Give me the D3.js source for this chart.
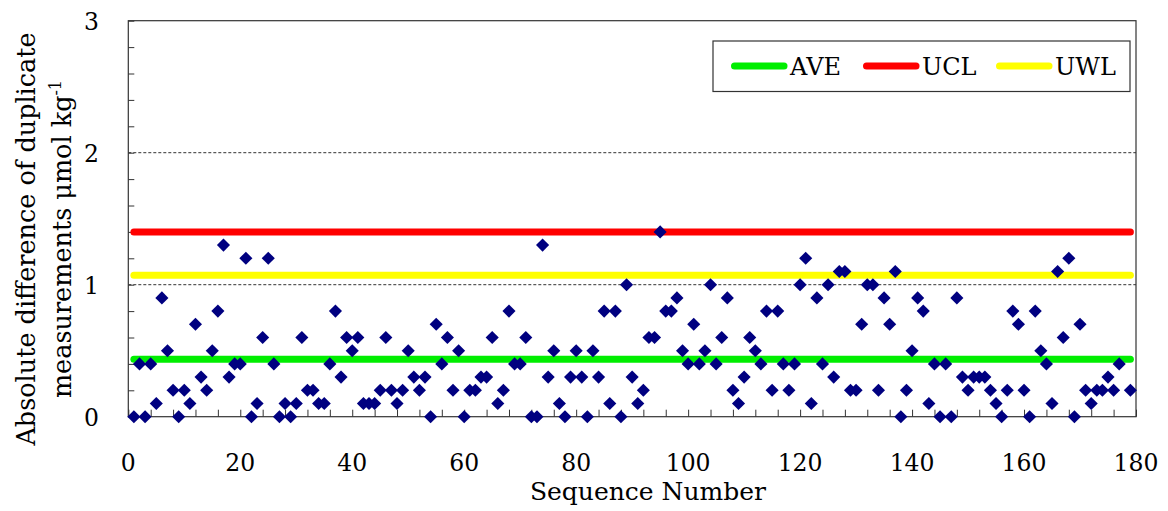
<!DOCTYPE html>
<html><head><meta charset="utf-8">
<script src="https://cdn.jsdelivr.net/npm/d3@7"></script>
<style>
body{margin:0;background:#fff;}
</style></head>
<body><svg id="chart" width="1168" height="511"></svg>
<script>
const sequence = d3.range(1, 180);
const diffs = [
0,0.4,0,0.4,0.1,0.9,0.5,0.2,0,0.2,
0.1,0.7,0.3,0.2,0.5,0.8,1.3,0.3,0.4,0.4,
1.2,0,0.1,0.6,1.2,0.4,0,0.1,0,0.1,
0.6,0.2,0.2,0.1,0.1,0.4,0.8,0.3,0.6,0.5,
0.6,0.1,0.1,0.1,0.2,0.6,0.2,0.1,0.2,0.5,
0.3,0.2,0.3,0,0.7,0.4,0.6,0.2,0.5,0,
0.2,0.2,0.3,0.3,0.6,0.1,0.2,0.8,0.4,0.4,
0.6,0,0,1.3,0.3,0.5,0.1,0,0.3,0.5,
0.3,0,0.5,0.3,0.8,0.1,0.8,0,1.0,0.3,
0.1,0.2,0.6,0.6,1.4,0.8,0.8,0.9,0.5,0.4,
0.7,0.4,0.5,1.0,0.4,0.6,0.9,0.2,0.1,0.3,
0.6,0.5,0.4,0.8,0.2,0.8,0.4,0.2,0.4,1.0,
1.2,0.1,0.9,0.4,1.0,0.3,1.1,1.1,0.2,0.2,
0.7,1.0,1.0,0.2,0.9,0.7,1.1,0,0.2,0.5,
0.9,0.8,0.1,0.4,0,0.4,0,0.9,0.3,0.2,
0.3,0.3,0.3,0.2,0.1,0,0.2,0.8,0.7,0.2,
0,0.8,0.5,0.4,0.1,1.1,0.6,1.2,0,0.7,
0.2,0.1,0.2,0.2,0.3,0.2,0.4,null,0.2
];
const limitNames = ["AVE","UCL","UWL"];
const limitValues = [0.436, 1.40, 1.072];
const limitColors = ["#00ee00","#ff0000","#ffff00"];
const xTickLabels = [0,20,40,60,80,100,120,140,160,180];
const yTickLabels = [0,1,2,3];
const gridValues = [1,2];

const FONT = "'DejaVu Serif', 'Liberation Serif', serif";
const svg = d3.select("#chart");
const L=128.3, T=20.7, R=1136, B=416.7;
const x = d3.scaleLinear().domain([0,180]).range([L,R]);
const y = d3.scaleLinear().domain([0,3]).range([B,T]);

// grid
svg.append("g").selectAll("line").data(gridValues).join("line")
  .attr("x1",L).attr("x2",R).attr("y1",d=>y(d)).attr("y2",d=>y(d))
  .attr("stroke","#333").attr("stroke-width",1).attr("stroke-dasharray","3,2");

// frame
svg.append("rect").attr("x",L).attr("y",T).attr("width",R-L).attr("height",B-T)
  .attr("fill","none").attr("stroke","#333").attr("stroke-width",1.2);

// inner ticks
const xAxis = d3.axisBottom(x).tickValues(d3.range(0,181,4)).tickSize(-7).tickFormat("");
svg.append("g").attr("transform",`translate(0,${B})`).call(xAxis)
  .call(g=>{g.select(".domain").remove(); g.selectAll("line").attr("stroke","#333");});
const yAxis = d3.axisLeft(y).tickValues(d3.range(0,3.01,0.2)).tickSize(-6).tickFormat("");
svg.append("g").attr("transform",`translate(${L},0)`).call(yAxis)
  .call(g=>{g.select(".domain").remove(); g.selectAll("line").attr("stroke","#333");});

// tick labels
svg.append("g").selectAll("text").data(xTickLabels).join("text")
  .attr("x",d=>x(d)).attr("y",471).attr("text-anchor","middle")
  .attr("font-family",FONT).attr("font-size",23.5).text(d=>d);
svg.append("g").selectAll("text").data(yTickLabels).join("text")
  .attr("x",99).attr("y",d=>y(d)+9).attr("text-anchor","end")
  .attr("font-family",FONT).attr("font-size",23.5).text(d=>d);

// axis titles
svg.append("text").attr("x",648).attr("y",500).attr("text-anchor","middle")
  .attr("font-family",FONT).attr("font-size",25).text("Sequence Number");
const yt = svg.append("text").attr("transform","translate(0,239) rotate(-90)")
  .attr("text-anchor","middle").attr("font-family",FONT).attr("font-size",25.5);
yt.append("tspan").attr("x",0).attr("y",35).text("Absolute difference of duplicate");
yt.append("tspan").attr("x",0).attr("y",71).text("measurements μmol kg");
yt.append("tspan").attr("dy",-10).attr("font-size",16).text("-1");

// limit lines
svg.append("g").selectAll("line").data(limitValues).join("line")
  .attr("x1",x(1)).attr("x2",x(179)).attr("y1",d=>y(d)).attr("y2",d=>y(d))
  .attr("stroke",(d,i)=>limitColors[i]).attr("stroke-width",7).attr("stroke-linecap","round");

// points
const pts = sequence.map((s,i)=>({s, v:diffs[i]})).filter(d=>d.v!==null);
const sym = d3.symbol().type(d3.symbolSquare).size(86);
svg.append("g").selectAll("path").data(pts).join("path")
  .attr("d",sym).attr("fill","#000080")
  .attr("transform",d=>`translate(${x(d.s)},${y(d.v)}) rotate(45)`);

// legend
const lg = svg.append("g");
lg.append("rect").attr("x",713).attr("y",41).attr("width",417).attr("height",50.5)
  .attr("fill","#fff").attr("stroke","#333").attr("stroke-width",1.2);
const legX = [731, 863, 996];
limitNames.forEach((n,i)=>{
  lg.append("line").attr("x1",legX[i]+3.5).attr("x2",legX[i]+53).attr("y1",66).attr("y2",66)
    .attr("stroke",limitColors[i]).attr("stroke-width",7).attr("stroke-linecap","round");
  lg.append("text").attr("x",legX[i]+59).attr("y",75).attr("font-family",FONT)
    .attr("font-size",24).text(n);
});
</script></body></html>
